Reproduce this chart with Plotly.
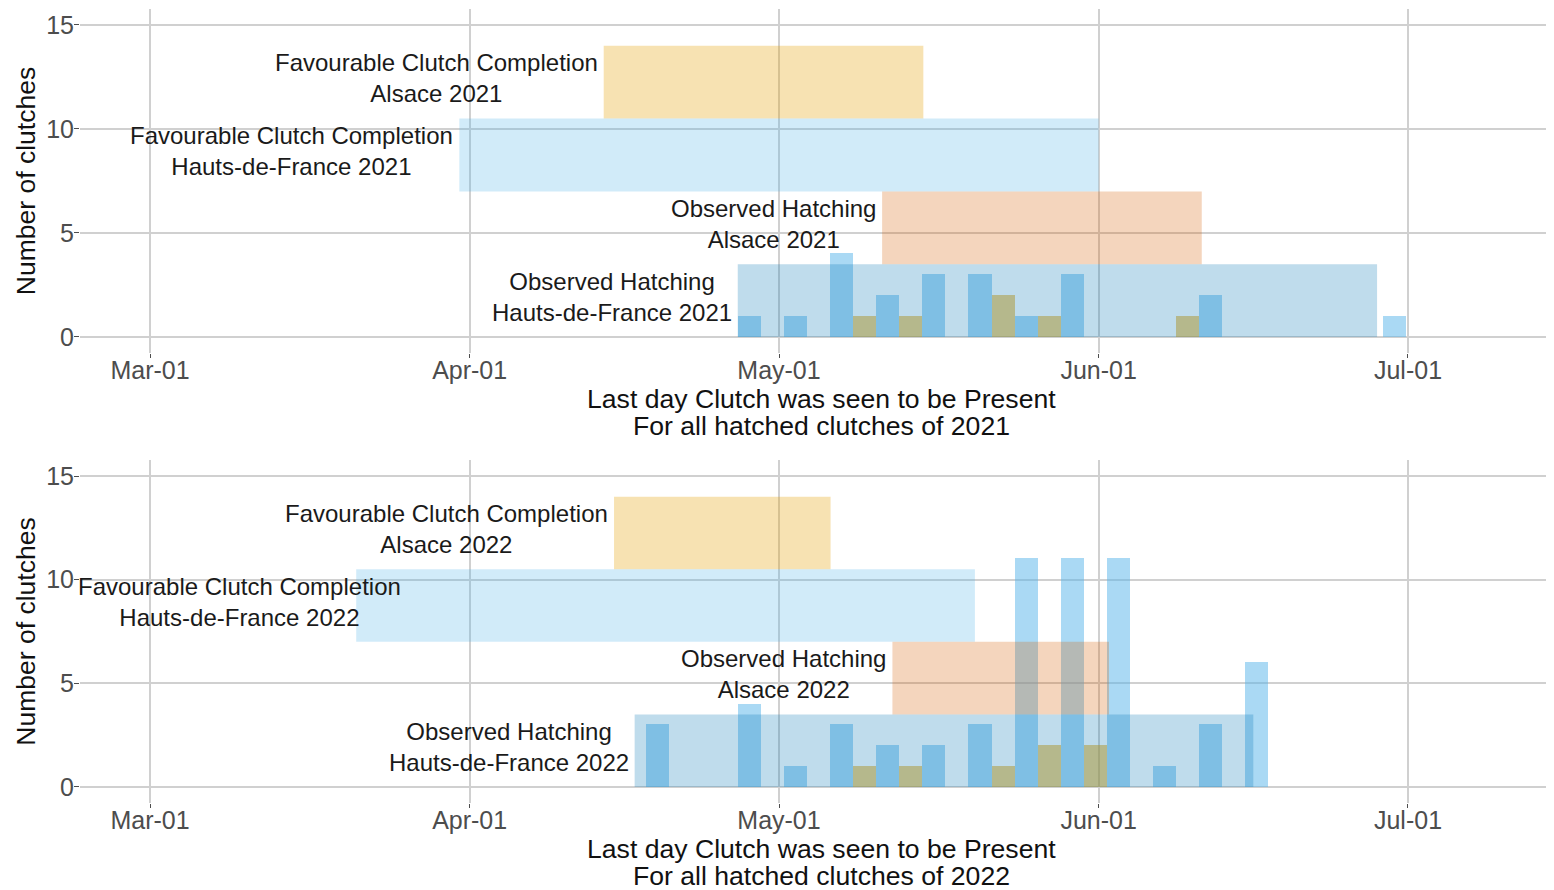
import plotly.graph_objects as go

FONT = "Liberation Sans, Arial, sans-serif"

# ---- histogram bins (centre of each pair of dodged bars), month-day part ----
BIN_MONTH_DAY = ["04-20 08:00", "04-24 19:14", "04-29 06:29", "05-03 17:43",
                 "05-08 04:57", "05-12 16:11", "05-17 03:24", "05-21 14:38",
                 "05-26 01:52", "05-30 13:06", "06-04 00:20", "06-08 11:34",
                 "06-12 22:48", "06-17 10:02", "06-21 21:16", "06-26 08:30",
                 "06-30 19:44"]
BAR_WIDTH_DAYS = 2.234

# counts of clutches per bin
HDF_2021 = [0, 0, 1, 1, 4, 2, 3, 3, 1, 3, 0, 0, 2, 0, 0, 0, 1]
ALS_2021 = [0, 0, 0, 0, 1, 1, 0, 2, 1, 0, 0, 1, 0, 0, 0, 0, 0]
HDF_2022 = [3, 0, 4, 1, 3, 2, 2, 3, 11, 11, 11, 1, 3, 6, 0, 0, 0]
ALS_2022 = [0, 0, 0, 0, 1, 1, 0, 1, 2, 2, 0, 0, 0, 0, 0, 0, 0]

# ---- periods (rectangles) ----
RECT_NAMES = ["Favourable Clutch Completion", "Favourable Clutch Completion",
              "Observed Hatching", "Observed Hatching"]
RECT_REGIONS = ["Alsace", "Hauts-de-France", "Alsace", "Hauts-de-France"]
RECT_START_2021 = ["2021-04-14", "2021-03-31", "2021-05-11", "2021-04-27"]
RECT_END_2021 = ["2021-05-15", "2021-06-01", "2021-06-11", "2021-06-28"]
RECT_START_2022 = ["2022-04-15", "2022-03-21", "2022-05-12", "2022-04-17"]
RECT_END_2022 = ["2022-05-06", "2022-05-20", "2022-06-02", "2022-06-16"]
RECT_YLOW = [10.5, 7, 3.5, 0]
RECT_YHIGH = [14, 10.5, 7, 3.5]
RECT_FILLS = ["rgba(230,159,0,0.30)", "rgba(86,180,233,0.27)",
              "rgba(213,94,0,0.26)", "rgba(0,114,178,0.25)"]
# where each label's right side is anchored
LABEL_X_2021 = ["2021-04-14", "2021-03-31", "2021-05-11", "2021-04-27"]
LABEL_X_2022 = ["2022-04-15", "2022-03-25 22:00", "2022-05-12", "2022-04-17"]

X_TITLE_LINES = ["Last day Clutch was seen to be Present",
                 "For all hatched clutches of {yr}"]
Y_TITLE = "Number of clutches"

TICK_MONTH_DAY = ["03-01", "04-01", "05-01", "06-01", "07-01"]
X_RANGE_MONTH_DAY = ["02-22 05:04", "07-15 03:50"]
Y_TICKS = [0, 5, 10, 15]
Y_RANGE = [-0.75, 15.75]

HDF_BAR = "rgba(86,180,233,0.5)"
ALS_BAR = "rgba(230,159,0,0.5)"
GRID = "#d0d0d0"
TICKC = "#4d4d4d"

YEARS = [2021, 2022]
HDF = {2021: HDF_2021, 2022: HDF_2022}
ALS = {2021: ALS_2021, 2022: ALS_2022}
RSTART = {2021: RECT_START_2021, 2022: RECT_START_2022}
REND = {2021: RECT_END_2021, 2022: RECT_END_2022}
LABX = {2021: LABEL_X_2021, 2022: LABEL_X_2022}

fig = go.Figure()
w_ms = BAR_WIDTH_DAYS * 86400000
shapes = []
annotations = []

for i, yr in enumerate(YEARS):
    xa = "x" if i == 0 else "x2"
    ya = "y" if i == 0 else "y2"
    xs = [f"{yr}-{md}" for md in BIN_MONTH_DAY]
    fig.add_trace(go.Bar(x=xs, y=HDF[yr], width=[w_ms] * len(xs), offset=-w_ms,
                         marker=dict(color=HDF_BAR, line=dict(width=0)),
                         xaxis=xa, yaxis=ya, showlegend=False,
                         name=f"Hauts-de-France {yr}"))
    fig.add_trace(go.Bar(x=xs, y=ALS[yr], width=[w_ms] * len(xs), offset=0,
                         marker=dict(color=ALS_BAR, line=dict(width=0)),
                         xaxis=xa, yaxis=ya, showlegend=False,
                         name=f"Alsace {yr}"))
    for j in range(4):
        shapes.append(dict(type="rect", xref=xa, yref=ya,
                           x0=RSTART[yr][j], x1=REND[yr][j],
                           y0=RECT_YLOW[j], y1=RECT_YHIGH[j],
                           fillcolor=RECT_FILLS[j], line=dict(width=0),
                           layer="above"))
        annotations.append(dict(xref=xa, yref=ya, x=LABX[yr][j],
                                y=(RECT_YLOW[j] + RECT_YHIGH[j]) / 2,
                                text=f"{RECT_NAMES[j]}<br>{RECT_REGIONS[j]} {yr}",
                                showarrow=False, xanchor="right", yanchor="middle",
                                align="center", xshift=-4, yshift=4,
                                font=dict(family=FONT, size=24, color="#1a1a1a")))
    # two-line x-axis title, placed below the tick labels of each panel
    for k, line in enumerate(X_TITLE_LINES):
        annotations.append(dict(xref=f"{xa} domain", yref=f"{ya} domain",
                                x=0.5, y=0, xanchor="center", yanchor="middle",
                                xshift=4, yshift=-46 - 27.5 * k,
                                text=line.format(yr=yr), showarrow=False,
                                font=dict(family=FONT, size=26.6, color="#111111")))


def xaxis(yr, anchor):
    return dict(type="date", anchor=anchor, domain=[0, 1],
                range=[f"{yr}-{md}" for md in X_RANGE_MONTH_DAY],
                tickvals=[f"{yr}-{md}" for md in TICK_MONTH_DAY],
                tickformat="%b-%d", ticks="outside", ticklen=4, tickwidth=1.3,
                tickcolor=TICKC, showgrid=True, gridcolor=GRID, gridwidth=1.6,
                zeroline=False, showline=False, automargin=False,
                ticklabelstandoff=-9,
                tickfont=dict(family=FONT, size=25, color=TICKC))


def yaxis(domain, anchor):
    return dict(anchor=anchor, domain=domain, range=Y_RANGE, tickvals=Y_TICKS,
                ticks="outside", ticklen=5, tickwidth=1.3, tickcolor=TICKC,
                showgrid=True, gridcolor=GRID, gridwidth=1.6, zeroline=False,
                showline=False, automargin=False, ticklabelstandoff=-5,
                tickfont=dict(family=FONT, size=25, color=TICKC),
                title=dict(text=Y_TITLE,
                           font=dict(family=FONT, size=26.5, color="#111111"),
                           standoff=2))


# the page body adds an 8 px offset, so the figure is 8 px smaller and shifted
fig.update_layout(
    width=1546, height=882,
    margin=dict(l=72, r=0, t=1, b=87),
    paper_bgcolor="white", plot_bgcolor="white",
    barmode="overlay", bargap=0,
    xaxis=xaxis(2021, "y"), yaxis=yaxis([0.5673, 0.9995], "x"),
    xaxis2=xaxis(2022, "y2"), yaxis2=yaxis([0.0006, 0.4314], "x2"),
    shapes=shapes, annotations=annotations,
    font=dict(family=FONT),
)

fig.write_html("out.html")
